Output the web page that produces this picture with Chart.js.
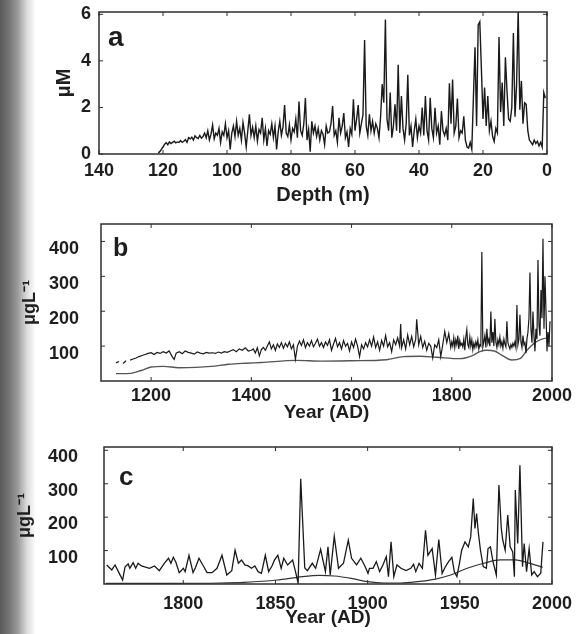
<!DOCTYPE html>
<html lang="en">
<head>
    <meta charset="UTF-8">
    <title>Ice core records</title>
    <script src="https://cdn.jsdelivr.net/npm/chart.js"></script>
    <style>
        body {
            margin: 0;
            background: #fff;
            width: 580px;
            height: 634px;
            overflow: hidden;
            position: relative;
        }
        #edge {
            position: absolute;
            left: 0;
            top: 0;
            width: 36px;
            height: 634px;
            background: linear-gradient(to right, #5a5a5a 0px, #747474 9px, #9c9c9c 18px, #dcdcdc 27px, #fff 36px);
        }
        canvas {
            position: absolute;
            left: 0;
        }
    </style>
</head>
<body>
    <div id="edge"></div>
    <canvas id="chartA" width="580" height="210" style="top:0px"></canvas>
    <canvas id="chartB" width="580" height="215" style="top:210px"></canvas>
    <canvas id="chartC" width="580" height="204" style="top:430px"></canvas>

    <script>
        // panel a: concentration (uM) against depth (m)
        const depthA = [
            121.5,121,120.5,120,119.5,119,118.5,118,117.5,117,
            116.5,116,115.5,115,114.5,114,113.5,113,112.5,112,
            111.5,111,110.5,110,109.5,109,108.5,108,107.5,107,
            106.5,106,105.5,105,104.5,104,103.5,103,102.5,102,
            101.5,101,100.5,100,99.5,99,98.5,98,97.5,97,
            96.5,96,95.5,95,94.5,94,93.5,93,92.5,92,
            91.5,91,90.5,90,89.5,89,88.5,88,87.5,87,
            86.5,86,85.5,85,84.5,84,83.5,83,82.5,82,
            81.5,81,80.5,80,79.5,79,78.5,78,77.5,77,
            76.5,76,75.5,75,74.5,74,73.5,73,72.5,72,
            71.5,71,70.5,70,69.5,69,68.5,68,67.5,67,
            66.5,66,65.5,65,64.5,64,63.5,63,62.5,62,
            61.5,61,60.5,60,59.5,59,58.5,58,57.5,57,
            56.5,56,55.5,55,54.5,54,53.5,53,52.5,52,
            51.5,51,50.5,50,49.5,49,48.5,48,47.5,47,
            46.5,46,45.5,45,44.5,44,43.5,43,42.5,42,
            41.5,41,40.5,40,39.5,39,38.5,38,37.5,37,
            36.5,36,35.5,35,34.5,34,33.5,33,32.5,32,
            31.5,31,30.5,30,29.5,29,28.5,28,27.5,27,
            26.5,26,25.5,25,24.5,24,23.5,23,22.5,22,
            21.5,21,20.5,20,19.5,19,18.5,18,17.5,17,
            16.5,16,15.5,15,14.5,14,13.5,13,12.5,12,
            11.5,11,10.5,10,9.5,9,8.5,8,7.5,7,
            6.5,6,5.5,5,4.5,4,3.5,3,2.5,2,
            1.5,1,0.5
        ];
        const concA = [
            0.05,0.1,0.2,0.3,0.42,0.48,0.4,0.52,0.45,0.5,
            0.55,0.48,0.52,0.5,0.58,0.5,0.55,0.62,0.5,0.7,
            0.65,0.72,0.6,0.78,0.7,0.66,0.8,0.68,0.75,0.9,
            0.7,1.0,0.6,0.85,1.25,0.65,0.9,0.8,1.1,0.5,
            0.95,0.8,1.3,0.7,1.0,0.2,0.9,1.2,0.75,1.4,
            0.8,1.1,0.6,1.35,0.9,0.3,1.0,1.7,0.8,1.15,
            0.7,1.2,0.55,1.05,0.9,1.55,0.6,1.1,0.35,1.0,
            0.85,1.3,0.7,1.2,0.2,0.95,1.4,0.8,1.15,2.1,
            0.9,0.75,1.25,0.6,1.1,0.95,1.5,0.7,2.25,1.0,
            0.8,1.3,2.4,0.6,1.05,0.1,1.4,0.9,1.2,0.75,
            1.1,0.6,1.0,0.85,0.4,1.2,0.9,0.95,1.3,2.06,
            0.8,1.0,0.5,1.55,0.9,1.2,1.76,0.7,0.95,0.3,
            1.1,0.85,2.35,1.0,1.5,2.1,0.9,1.3,1.7,4.9,
            1.2,0.8,1.7,1.0,1.4,0.9,1.3,1.1,0.7,1.6,
            3.0,2.2,5.78,1.5,1.0,2.64,0.7,1.2,2.13,1.0,
            3.83,0.9,2.49,1.1,0.6,1.3,3.4,0.8,1.2,0.3,
            1.0,1.5,0.7,1.2,0.9,2.0,0.8,2.49,1.0,0.6,
            2.42,1.1,0.7,1.99,0.9,1.2,0.4,1.84,1.0,0.8,
            1.1,0.6,3.04,1.3,3.2,0.9,1.2,2.38,0.7,1.0,
            0.9,1.62,0.6,0.3,0.25,0.5,0.2,2.42,4.59,1.2,
            5.54,5.68,3.65,1.5,2.86,1.2,2.49,1.0,1.41,0.75,
            0.54,1.1,0.9,5.03,1.8,3.07,1.2,4.16,2.71,1.5,
            1.4,2.0,5.2,1.6,2.98,6.2,1.9,3.14,1.3,2.2,
            2.13,1.0,0.6,0.5,0.4,0.6,0.45,0.55,0.35,0.5,
            0.3,2.64,2.4
        ];
        const depthTicks = [140, 120, 100, 80, 60, 40, 20, 0];
        const concTicksA = [0, 2, 4, 6];

        // panel b: ugL-1 against year, raw series and smoothed background
        const yearB = [
            1130,1136,1140,1144,1150,1154,1158,1164,1170,1176,1182,1188,1194,1200,1206,1212,1218,1224,1230,1236,
            1242,1246,1250,1256,1262,1268,1274,1280,1286,1292,1298,1304,1310,1316,1322,1328,1334,1340,1346,1352,
            1358,1364,1370,1376,1382,1388,1394,1400,
            1404,1408,1412,1416,1420,1424,1428,1432,1436,1440,1444,1448,1452,1456,1460,1464,1468,1472,1476,1480,
            1484,1488,1492,1496,1500,1504,1508,1512,1516,1520,1524,1528,1532,1536,1540,1544,1548,1552,1556,1560,
            1564,1568,1572,1576,1580,1584,1588,1592,1596,1600,1604,1608,1612,1616,1620,1624,1628,1632,1636,1640,
            1644,1648,1652,1656,1660,1664,1668,1672,1676,1680,1684,1688,1692,1696,1698,1700,1704,1708,1712,1716,
            1720,1724,1728,1730,1734,1738,1742,1746,1750,1754,1758,1762,1766,1770,1774,1778,1782,1786,1790,1794,1798,
            1800,1802,1804,1806,1808,1810,1812,1814,1816,1818,1820,1822,1824,1826,1828,1830,1832,1834,1836,1838,
            1840,1842,1844,1846,1848,1850,1852,1854,1856,1858,1860,1862,1864,1866,1868,1870,1872,1874,1876,1878,
            1880,1882,1884,1886,1888,1890,1892,1894,1896,1898,1900,1902,1904,1906,1908,1910,1912,1914,1916,1918,
            1920,1922,1924,1926,1928,1930,1932,1934,1936,1938,1940,1942,1944,1946,1948,1950,1952,1954,1956,1958,
            1960,1962,1964,1966,1968,1970,1972,1974,1976,1978,1980,1982,1984,1986,1988,1990,1992,1994,1996
        ];
        const concB = [
            52,56,null,50,58,null,60,63,66,70,73,76,79,81,76,82,79,84,80,86,
            70,62,80,84,78,86,82,80,77,83,80,78,82,80,81,79,83,80,84,82,
            86,90,84,92,88,95,86,88,
            92,80,95,72,90,96,88,100,112,92,104,88,106,96,110,94,108,98,112,92,
            104,62,100,114,102,118,96,110,100,116,98,108,120,100,110,96,112,102,118,88,
            106,122,98,110,92,116,100,108,86,112,96,120,100,70,104,92,110,98,118,100,
            126,96,112,88,116,100,130,98,110,84,118,104,124,100,163,96,118,92,132,104,
            128,98,120,177,104,128,96,114,88,108,100,66,104,96,118,70,104,142,110,136,96,
            112,100,124,96,118,104,130,92,116,102,108,98,120,88,126,147,104,96,126,100,
            118,90,108,96,112,100,118,92,104,100,370,98,112,130,96,150,108,120,100,199,
            110,140,100,178,112,96,118,104,126,100,112,94,120,106,98,171,110,100,92,104,
            96,108,100,112,96,218,104,120,190,112,96,130,104,110,80,120,140,180,311,150,
            110,199,130,85,150,120,347,160,130,261,180,408,150,300,200,85,140,100,171
        ];
        const yearBSmooth = [1130,1160,1180,1200,1225,1255,1290,1320,1355,1390,1420,1490,1540,1600,1670,1703,1737,1770,1816,1840,1856,1870,1885,1903,1920,1936,1950,1966,1980,1996];
        const concBSmooth = [21,22,30,40,42,38,39,42,48,51,53,59,57,58,61,70,71,68,64,72,84,88,86,71,60,64,88,110,120,125];
        const yearTicksB = [1200, 1400, 1600, 1800, 2000];
        const concTicksB = [100, 200, 300, 400];

        // panel c: ugL-1 against year, raw series and smoothed background
        const yearC = [
            1758.5,1761.2,1763,1764.8,1767.1,1768.4,1770.1,1771,1772.8,1774.2,1775.5,1777.3,1779,1781.7,1784.4,1787,1789.7,1792,1793.3,1794.6,
            1796,1797.8,1800,1801,1803.1,1805.3,1806.7,1808.5,1810.6,1812.9,1815.6,1818.3,1821,1823.6,1826.3,1828.1,1829.9,1831.6,1833.4,1835.2,
            1837,1838.8,1840.6,1842.4,1844.5,1846.3,1848.1,1849.5,1851.3,1853.1,1854.5,1856.6,1859.3,1861.1,1862.3,1863.7,1865.9,1867.3,1870,1871.8,
            1874.5,1877.1,1878.5,1879.7,1881.9,1884.2,1886.9,1889.5,1891.3,1894,1896.3,1898.5,1900.2,1901,1902.9,1904.7,1906.5,1908.3,1910.1,1911.3,
            1912.7,1914.2,1915.9,1918.1,1920.8,1923.4,1924.9,1926.1,1927.9,1929.7,1931.4,1932.7,1935,1936.8,1938.6,1940.4,1942.1,1943.9,1945.7,1947,
            1948.4,1949.8,1951,1952.8,1954.6,1955.9,1957.3,1958.2,1959.1,1960,1961.2,1962.7,1964.4,1965.3,1966.6,1968,1969.8,1971.2,1972.5,1973.3,
            1974.6,1976,1977.3,1978.7,1979.6,1980.1,1981.4,1982.6,1984,1984.9,1986.2,1987.6,1989,1990.3,1992.1,1993.9,1995.1
        ];
        const concC = [
            57,42,57,37,12,51,60,47,64,47,62,54,51,47,54,40,62,77,62,80,
            65,34,47,37,86,34,50,77,57,34,34,47,86,27,40,101,62,72,57,54,
            47,54,37,32,86,37,54,72,86,47,77,57,72,32,2,315,48,40,62,47,
            104,37,111,27,143,47,62,131,77,57,77,54,32,47,47,67,37,57,82,22,
            126,22,57,47,40,47,59,37,62,47,161,86,106,27,133,32,51,67,80,37,
            22,62,101,126,111,141,256,166,211,156,101,52,47,106,111,67,27,296,166,131,
            101,206,111,96,22,281,121,355,52,121,37,106,27,37,22,32,126
        ];
        const yearCSmooth = [1758,1790,1820,1833,1851,1862,1874,1882,1891,1900,1909,1918,1927,1936,1945,1954,1963,1972,1980,1989,1995];
        const concCSmooth = [2,2,3,5,12,20,26,24,17,7,3,3,7,14,27,47,62,72,72,60,50];
        const yearTicksC = [1800, 1850, 1900, 1950, 2000];
        const concTicksC = [100, 200, 300, 400];

        Chart.defaults.font.family = "'Liberation Sans', Arial, Helvetica, sans-serif";
        Chart.defaults.color = '#1e1e1e';

        function points(xs, ys) {
            return xs.map((x, i) => ({ x: x, y: ys[i] }));
        }

        // axes box, inward tick marks and the panel letter
        const boxPlugin = {
            id: 'box',
            afterDraw(chart, args, opts) {
                const ctx = chart.ctx;
                const a = chart.chartArea;
                const sx = chart.scales.x, sy = chart.scales.y;
                ctx.save();
                ctx.strokeStyle = '#2e2e2e';
                ctx.lineWidth = 1.5;
                ctx.strokeRect(a.left, a.top, a.right - a.left, a.bottom - a.top);
                ctx.lineWidth = 1;
                ctx.beginPath();
                sx.ticks.forEach(t => {
                    const px = sx.getPixelForValue(t.value);
                    ctx.moveTo(px, a.bottom); ctx.lineTo(px, a.bottom - 4);
                    ctx.moveTo(px, a.top); ctx.lineTo(px, a.top + 4);
                });
                sy.ticks.forEach(t => {
                    const py = sy.getPixelForValue(t.value);
                    ctx.moveTo(a.left, py); ctx.lineTo(a.left + 4, py);
                    ctx.moveTo(a.right, py); ctx.lineTo(a.right - 4, py);
                });
                ctx.stroke();
                ctx.fillStyle = '#1e1e1e';
                ctx.font = 'bold ' + opts.size + "px 'Liberation Sans', Arial, sans-serif";
                ctx.textBaseline = 'alphabetic';
                ctx.fillText(opts.letter, a.left + opts.dx, a.top + opts.dy);
                ctx.restore();
            }
        };

        function panel(id, o) {
            return new Chart(document.getElementById(id), {
                type: 'line',
                data: { datasets: o.datasets },
                options: {
                    responsive: false,
                    animation: false,
                    layout: { padding: o.padding },
                    elements: { point: { radius: 0 } },
                    plugins: {
                        legend: { display: false },
                        tooltip: { enabled: false },
                        box: { letter: o.letter, size: o.letterSize, dx: o.dx, dy: o.dy }
                    },
                    scales: {
                        x: {
                            type: 'linear',
                            min: o.xMin,
                            max: o.xMax,
                            reverse: !!o.reverse,
                            grid: { display: false, drawTicks: false },
                            border: { display: false },
                            afterBuildTicks: s => { s.ticks = o.xTicks.map(v => ({ value: v })); },
                            afterFit: s => {
                                s.height = o.xHeight;
                                s.paddingLeft = 0;
                                s.paddingRight = 0;
                            },
                            ticks: {
                                font: { size: 18, weight: 'bold' },
                                padding: o.xTickPad,
                                maxRotation: 0,
                                autoSkip: false,
                                callback: v => String(v)
                            },
                            title: {
                                display: true,
                                text: o.xTitle,
                                font: { size: o.xTitleSize, weight: 'bold' },
                                padding: { top: 0, bottom: o.xTitlePad }
                            }
                        },
                        y: {
                            min: 0,
                            max: o.yMax,
                            grid: { display: false, drawTicks: false },
                            border: { display: false },
                            afterBuildTicks: s => { s.ticks = o.yTicks.map(v => ({ value: v })); },
                            afterFit: s => {
                                // keep the plot box where the layout padding puts it
                                s.width = o.yWidth;
                                s.paddingTop = 0;
                                s.paddingBottom = 0;
                            },
                            ticks: {
                                font: { size: 18, weight: 'bold' },
                                padding: o.yTickPad,
                                labelOffset: o.yLabelOffset,
                                autoSkip: false,
                                callback: v => String(v)
                            },
                            title: {
                                display: true,
                                text: o.yTitle,
                                font: { size: o.yTitleSize, weight: 'bold' },
                                padding: { top: o.yTitlePad, bottom: 0 }
                            }
                        }
                    }
                },
                plugins: [boxPlugin]
            });
        }

        panel('chartA', {
            datasets: [{
                data: points(depthA, concA),
                borderColor: '#1a1a1a',
                borderWidth: 1.4,
                tension: 0
            }],
            padding: { top: 12, right: 33, left: 0, bottom: 0 },
            letter: 'a', letterSize: 28, dx: 9, dy: 34,
            xMin: 0, xMax: 140, reverse: true, xTicks: depthTicks,
            xHeight: 56, xTickPad: 6, xTitle: 'Depth (m)', xTitleSize: 20, xTitlePad: 3,
            yMax: 6.1, yTicks: concTicksA, yWidth: 99, yTickPad: 8, yLabelOffset: 0,
            yTitle: 'μM', yTitleSize: 20, yTitlePad: 52
        });

        panel('chartB', {
            datasets: [{
                data: points(yearB, concB),
                borderColor: '#1a1a1a',
                borderWidth: 1.2,
                spanGaps: false,
                tension: 0
            }, {
                data: points(yearBSmooth, concBSmooth),
                borderColor: '#555',
                borderWidth: 1.4,
                cubicInterpolationMode: 'monotone'
            }],
            padding: { top: 14, right: 28, left: 0, bottom: 0 },
            letter: 'b', letterSize: 25, dx: 12, dy: 32,
            xMin: 1100, xMax: 2000, xTicks: yearTicksB,
            xHeight: 44, xTickPad: 4, xTitle: 'Year (AD)', xTitleSize: 19, xTitlePad: 1,
            yMax: 450, yTicks: concTicksB, yWidth: 101, yTickPad: 22, yLabelOffset: 8,
            yTitle: 'μgL⁻¹', yTitleSize: 18, yTitlePad: 19
        });

        panel('chartC', {
            datasets: [{
                data: points(yearC, concC),
                borderColor: '#1a1a1a',
                borderWidth: 1.3,
                tension: 0
            }, {
                data: points(yearCSmooth, concCSmooth),
                borderColor: '#333',
                borderWidth: 1.2,
                cubicInterpolationMode: 'monotone'
            }],
            padding: { top: 17, right: 28, left: 0, bottom: 0 },
            letter: 'c', letterSize: 26, dx: 15, dy: 38,
            xMin: 1757, xMax: 2000, xTicks: yearTicksC,
            xHeight: 50, xTickPad: 9, xTitle: 'Year (AD)', xTitleSize: 19, xTitlePad: 5,
            yMax: 410, yTicks: concTicksC, yWidth: 104, yTickPad: 26, yLabelOffset: 7,
            yTitle: 'μgL⁻¹', yTitleSize: 18, yTitlePad: 14
        });
    </script>
</body>
</html>
